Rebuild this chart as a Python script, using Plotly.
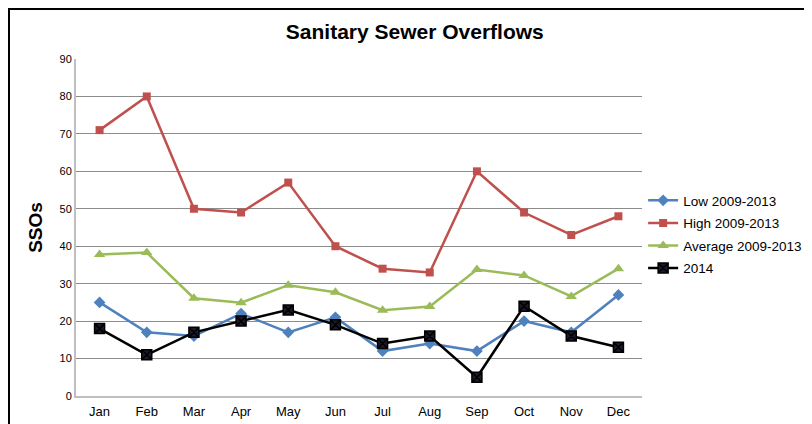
import plotly.graph_objects as go

months = ["Jan", "Feb", "Mar", "Apr", "May", "Jun", "Jul", "Aug", "Sep", "Oct", "Nov", "Dec"]
low = [25, 17, 16, 22, 17, 21, 12, 14, 12, 20, 17, 27]
high = [71, 80, 50, 49, 57, 40, 34, 33, 60, 49, 43, 48]
average = [37.8, 38.3, 26.1, 24.9, 29.6, 27.7, 22.9, 23.9, 33.8, 32.2, 26.6, 34.0]
y2014 = [18, 11, 17, 20, 23, 19, 14, 16, 5, 24, 16, 13]
y_ticks = [0, 10, 20, 30, 40, 50, 60, 70, 80, 90]

fig = go.Figure()
fig.add_trace(go.Scatter(x=months, y=low, name="Low 2009-2013", mode="lines+markers",
                         legendgroup="a",
                         line=dict(color="#4F81BD", width=2.5),
                         marker=dict(symbol="diamond", size=9, color="#4F81BD")))
fig.add_trace(go.Scatter(x=months, y=high, name="High 2009-2013", mode="lines+markers",
                         legendgroup="b",
                         line=dict(color="#C0504D", width=2.5),
                         marker=dict(symbol="square", size=8, color="#C0504D")))
fig.add_trace(go.Scatter(x=months, y=average, name="Average 2009-2013", mode="lines+markers",
                         legendgroup="c",
                         line=dict(color="#9BBB59", width=2.5),
                         marker=dict(symbol="triangle-up", size=10, color="#9BBB59")))
fig.add_trace(go.Scatter(x=months, y=y2014, name="2014", mode="lines+markers",
                         legendgroup="d",
                         line=dict(color="#000000", width=2.5),
                         marker=dict(symbol="square-x", size=10, color="#1c1a2a",
                                     line=dict(color="#000000", width=1.5))))

fig.update_layout(
    width=812, height=424,
    margin=dict(l=68, r=178, t=51, b=36, autoexpand=False),
    paper_bgcolor="white", plot_bgcolor="white",
    font=dict(family="Liberation Sans, Arial, sans-serif", color="#000000"),
    title=dict(text="<b>Sanitary Sewer Overflows</b>", x=0.501, xanchor="center",
               y=0.945, yanchor="middle", font=dict(size=21, color="#000000")),
    showlegend=True,
    legend=dict(x=1.002, xanchor="left", y=0.479, yanchor="middle",
                font=dict(size=13.5, color="#000000"), bgcolor="rgba(0,0,0,0)",
                tracegroupgap=2, itemwidth=30),
    xaxis=dict(range=[-0.5, 11.5], showgrid=False, showline=True, linecolor="#BFBFBF",
               linewidth=2, ticks="", tickfont=dict(size=13, color="#000000"),
               zeroline=False, fixedrange=True, automargin=False, ticklabelstandoff=2),
    yaxis=dict(range=[0, 90], tickvals=y_ticks, showgrid=True, gridcolor="#8C8C8C",
               gridwidth=1, showline=True, linecolor="#BFBFBF", linewidth=2, ticks="",
               tickfont=dict(size=11, color="#000000"), zeroline=False,
               title=dict(text="<b>SSOs</b>", font=dict(size=19, color="#000000"), standoff=12),
               fixedrange=True, automargin=False),
    shapes=[dict(type="rect", xref="paper", yref="paper",
                 x0=-0.1184, x1=2.0, y0=-1.0, y1=1.1484,
                 line=dict(color="#000000", width=2), fillcolor="rgba(0,0,0,0)", layer="below")],
)

fig.write_html("out.html")
